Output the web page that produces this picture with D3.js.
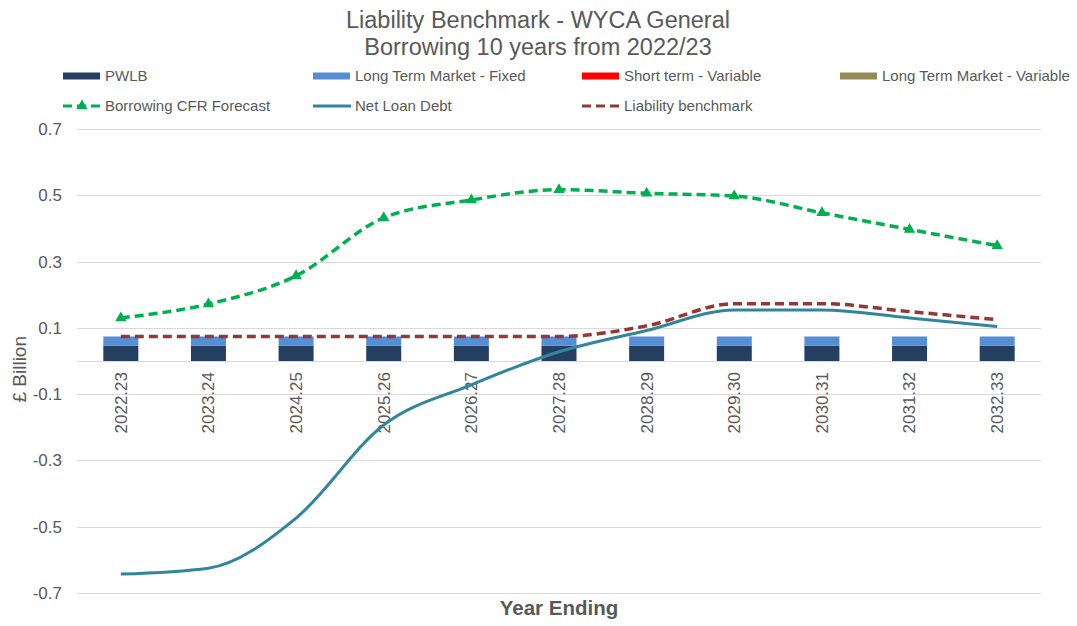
<!DOCTYPE html>
<head>
  <meta charset="utf-8">
  <title>Liability Benchmark - WYCA General</title>
</head>
<style>
  body { margin: 0; background: #fff; }
  svg { display: block; font-family: "Liberation Sans", Arial, sans-serif; }
  .title { font-size: 23.5px; fill: #595959; text-anchor: middle; }
  .legend text { font-size: 15px; fill: #595959; }
  .tick text { font-size: 17px; fill: #595959; }
  .grid line { stroke: #d9d9d9; stroke-width: 1; }
</style>
<svg width="1077" height="626"></svg>
<script src="https://d3js.org/d3.v7.min.js"></script>
<script>
  var years = ["2022.23", "2023.24", "2024.25", "2025.26", "2026.27", "2027.28",
    "2028.29", "2029.30", "2030.31", "2031.32", "2032.33"];

  var pwlb = [0.046, 0.046, 0.046, 0.046, 0.046, 0.046, 0.046, 0.046, 0.046, 0.046, 0.046];
  var ltmFixed = [0.028, 0.028, 0.028, 0.028, 0.028, 0.028, 0.028, 0.028, 0.028, 0.028, 0.028];
  var shortVar = [0, 0, 0, 0, 0, 0, 0, 0, 0, 0, 0];
  var ltmVar = [0, 0, 0, 0, 0, 0, 0, 0, 0, 0, 0];

  var cfr = [0.130, 0.172, 0.257, 0.432, 0.486, 0.517, 0.506, 0.498, 0.447, 0.397, 0.348];
  var netLoanDebt = [-0.643, -0.625, -0.474, -0.193, -0.072, 0.028, 0.092, 0.154, 0.154, 0.130, 0.104];
  var benchmark = [0.074, 0.074, 0.074, 0.074, 0.074, 0.074, 0.106, 0.173, 0.173, 0.149, 0.125];

  var yTicks = [-0.7, -0.5, -0.3, -0.1, 0.1, 0.3, 0.5, 0.7];

  var svg = d3.select("svg"),
    margin = { top: 129, right: 36, bottom: 33, left: 77 },
    width = +svg.attr("width") - margin.left - margin.right,
    height = +svg.attr("height") - margin.top - margin.bottom,
    g = svg.append("g").attr("transform", "translate(" + margin.left + "," + margin.top + ")");

  var x = d3.scaleBand().domain(years).range([0, width]);
  var y = d3.scaleLinear().domain([-0.7, 0.7]).range([height, 0]);

  // titles
  svg.append("text").attr("class", "title").attr("x", 538).attr("y", 28).text("Liability Benchmark - WYCA General");
  svg.append("text").attr("class", "title").attr("x", 538).attr("y", 55).text("Borrowing 10 years from 2022/23");

  // gridlines
  g.append("g").attr("class", "grid")
    .selectAll("line").data(yTicks.concat([0])).enter().append("line")
    .attr("x1", 0).attr("x2", width)
    .attr("y1", function (d) { return Math.round(y(d)) + 0.5; })
    .attr("y2", function (d) { return Math.round(y(d)) + 0.5; });

  // y axis (plain hyphen for negatives, like the original)
  var fmt = d3.format(".1f");
  var yAxis = g.append("g")
    .call(d3.axisLeft(y).tickValues(yTicks).tickSize(0).tickPadding(15)
      .tickFormat(function (d) { return fmt(d).replace("\u2212", "-"); }));
  yAxis.select(".domain").remove();

  // x axis labels, at zero line, rotated
  var xAxis = g.append("g").attr("transform", "translate(0," + y(0) + ")")
    .call(d3.axisBottom(x).tickSize(0));
  xAxis.select(".domain").remove();
  xAxis.selectAll(".tick text")
    .attr("transform", "rotate(-90)")
    .attr("x", -11).attr("y", 0).attr("dy", "0.35em")
    .style("text-anchor", "end");

  // stacked bars
  var barSeries = [
    { name: "PWLB", values: pwlb, color: "#243F60" },
    { name: "Long Term Market - Fixed", values: ltmFixed, color: "#558ED5" },
    { name: "Short term - Variable", values: shortVar, color: "#FF0000" },
    { name: "Long Term Market - Variable", values: ltmVar, color: "#948A54" }
  ];
  var table = years.map(function (yr, i) {
    var row = { year: yr };
    barSeries.forEach(function (s) { row[s.name] = s.values[i]; });
    return row;
  });
  var stack = d3.stack().keys(barSeries.map(function (s) { return s.name; }))(table);
  var barW = 35;

  g.selectAll(".layer").data(stack).enter().append("g")
    .attr("fill", function (d, i) { return barSeries[i].color; })
    .selectAll("rect").data(function (d) { return d; }).enter().append("rect")
    .attr("x", function (d) { return x(d.data.year) + x.bandwidth() / 2 - barW / 2; })
    .attr("width", barW)
    .attr("y", function (d) { return y(d[1]); })
    .attr("height", function (d) { return y(d[0]) - y(d[1]); });

  var cx = function (d, i) { return x(years[i]) + x.bandwidth() / 2; };
  var line = d3.line().x(cx).y(function (d) { return y(d); }).curve(d3.curveMonotoneX);

  // Net loan debt
  g.append("path").datum(netLoanDebt)
    .attr("fill", "none").attr("stroke", "#31859C").attr("stroke-width", 3)
    .attr("d", line);

  // Liability benchmark
  g.append("path").datum(benchmark)
    .attr("fill", "none").attr("stroke", "#953735").attr("stroke-width", 3.5)
    .attr("stroke-dasharray", "9,5")
    .attr("d", line);

  // Borrowing CFR
  g.append("path").datum(cfr)
    .attr("fill", "none").attr("stroke", "#00B050").attr("stroke-width", 3.5)
    .attr("stroke-dasharray", "9,5")
    .attr("d", line);
  var tri = d3.symbol().type(d3.symbolTriangle).size(55);
  g.selectAll(".mk").data(cfr).enter().append("path")
    .attr("fill", "#00B050")
    .attr("transform", function (d, i) { return "translate(" + cx(d, i) + "," + y(d) + ")"; })
    .attr("d", tri);

  // legend
  var leg = svg.append("g").attr("class", "legend");
  var items = [
    { name: "PWLB", type: "bar", color: "#243F60", x: 63, y: 76 },
    { name: "Long Term Market - Fixed", type: "bar", color: "#558ED5", x: 313, y: 76 },
    { name: "Short term - Variable", type: "bar", color: "#FF0000", x: 582, y: 76 },
    { name: "Long Term Market - Variable", type: "bar", color: "#948A54", x: 840, y: 76 },
    { name: "Borrowing CFR Forecast", type: "marker", color: "#00B050", x: 63, y: 106 },
    { name: "Net Loan Debt", type: "line", color: "#31859C", x: 313, y: 106 },
    { name: "Liability benchmark", type: "dash", color: "#953735", x: 582, y: 106 }
  ];
  items.forEach(function (it) {
    var gi = leg.append("g").attr("transform", "translate(" + it.x + "," + it.y + ")");
    if (it.type === "bar") {
      gi.append("rect").attr("x", 0).attr("y", -3.5).attr("width", 37).attr("height", 7).attr("fill", it.color);
    } else {
      gi.append("line").attr("x1", 0).attr("x2", 38).attr("y1", 0).attr("y2", 0)
        .attr("stroke", it.color).attr("stroke-width", 3)
        .attr("stroke-dasharray", it.type === "line" ? null : "9,5");
      if (it.type === "marker") {
        gi.append("path").attr("transform", "translate(19,0)").attr("fill", it.color).attr("d", tri);
      }
    }
    gi.append("text").attr("x", 42).attr("y", 0).attr("dy", "0.35em").text(it.name);
  });

  // axis titles
  svg.append("text")
    .attr("transform", "translate(26," + (margin.top + y(-0.025)) + ") rotate(-90)")
    .attr("text-anchor", "middle")
    .style("font-size", "19px").style("fill", "#595959")
    .text("£ Billion");
  svg.append("text")
    .attr("x", 559).attr("y", 615)
    .attr("text-anchor", "middle")
    .style("font-size", "20.5px").style("font-weight", "bold").style("fill", "#595959")
    .text("Year Ending");
</script>
